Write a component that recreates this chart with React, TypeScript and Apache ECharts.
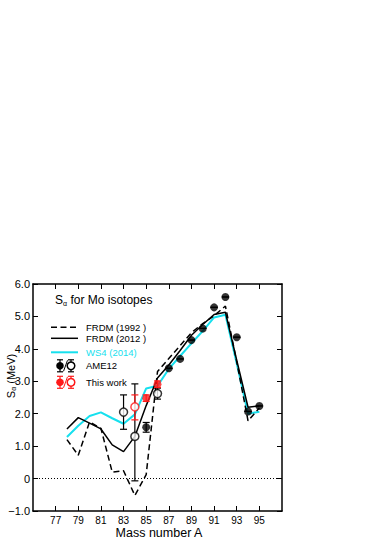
import React, { useEffect, useRef } from "react";
import * as echarts from "echarts";

// ---- data ----
const masses = [78, 79, 80, 81, 82, 83, 84, 85, 86, 87, 88, 89, 90, 91, 92, 93, 94, 95];
const frdm1992 = [1.2, 0.72, 1.75, 1.55, 0.2, 0.24, -0.52, 0.12, 3.3, 3.7, 4.1, 4.5, 4.78, 5.02, 5.32, 3.6, 1.78, 2.18];
const frdm2012 = [1.53, 1.88, 1.71, 1.53, 1.04, 0.83, 1.3, 2.25, 3.1, 3.5, 3.95, 4.42, 4.75, 5.06, 5.13, 3.65, 2.2, 2.24];
const ws4 = [1.28, 1.63, 1.93, 2.04, 1.86, 1.69, 1.98, 2.78, 2.86, 3.38, 3.78, 4.17, 4.55, 4.97, 5.05, 3.55, 2.0, 2.06];

const ameFilledA = [85, 87, 88, 89, 90, 91, 92, 93, 94, 95];
const ameFilledS = [1.58, 3.4, 3.69, 4.27, 4.63, 5.28, 5.6, 4.36, 2.07, 2.24];
const ameFilledLow = [1.43, 3.4, 3.69, 4.27, 4.63, 5.28, 5.6, 4.36, 2.07, 2.24];
const ameFilledHigh = [1.73, 3.4, 3.69, 4.27, 4.63, 5.28, 5.6, 4.36, 2.07, 2.24];

const ameOpenA = [83, 84, 86];
const ameOpenS = [2.05, 1.3, 2.62];
const ameOpenLow = [1.52, -0.07, 2.45];
const ameOpenHigh = [2.58, 2.92, 2.79];

const thisFilledA = [85, 86];
const thisFilledS = [2.48, 2.91];
const thisFilledLow = [2.38, 2.81];
const thisFilledHigh = [2.58, 3.01];

const thisOpenA = [84];
const thisOpenS = [2.21];
const thisOpenLow = [1.81];
const thisOpenHigh = [2.58];

const xTicks = [77, 79, 81, 83, 85, 87, 89, 91, 93, 95];

const legendNames = ["FRDM (1992 )", "FRDM (2012 )", "WS4 (2014)", "AME12", "This work"];

const FONT = "'Liberation Sans', Arial, sans-serif";
const CYAN = "#16e0ee";
const RED = "#ff1a1a";

function pairs(xs: number[], ys: number[]) {
  return xs.map((x, i) => [x, ys[i]]);
}
function triples(xs: number[], lo: number[], hi: number[]) {
  return xs.map((x, i) => [x, lo[i], hi[i]]);
}

function errSeries(data: number[][], color: string) {
  return {
    type: "custom",
    xAxisIndex: 0,
    yAxisIndex: 0,
    encode: { x: 0, y: [1, 2] },
    data,
    z: 3,
    renderItem: (params: any, api: any) => {
      const x = api.value(0);
      const lo = api.value(1);
      const hi = api.value(2);
      const p1 = api.coord([x, lo]);
      const p2 = api.coord([x, hi]);
      const w = 3.5;
      const st = { stroke: color, lineWidth: 1.2 };
      return {
        type: "group",
        children: [
          { type: "line", shape: { x1: p1[0], y1: p1[1], x2: p2[0], y2: p2[1] }, style: st },
          { type: "line", shape: { x1: p1[0] - w, y1: p1[1], x2: p1[0] + w, y2: p1[1] }, style: st },
          { type: "line", shape: { x1: p2[0] - w, y1: p2[1], x2: p2[0] + w, y2: p2[1] }, style: st },
        ],
      };
    },
  };
}

function legendSymbol(y: number, color: string) {
  const st = { stroke: color, lineWidth: 1.2 };
  const els: any[] = [];
  [60, 71].forEach((cx, k) => {
    els.push({ type: "line", shape: { x1: cx, y1: y - 6, x2: cx, y2: y + 6 }, style: st });
    els.push({ type: "line", shape: { x1: cx - 3, y1: y - 6, x2: cx + 3, y2: y - 6 }, style: st });
    els.push({ type: "line", shape: { x1: cx - 3, y1: y + 6, x2: cx + 3, y2: y + 6 }, style: st });
    els.push({
      type: "circle",
      shape: { cx, cy: y, r: 3.8 },
      style: k === 0 ? { fill: color } : { fill: "#fff", stroke: color, lineWidth: 1.5 },
    });
  });
  els.push({ type: "line", shape: { x1: 63.5, y1: y + 5.5, x2: 67.5, y2: y - 5.5 }, style: { stroke: color, lineWidth: 1 } });
  return els;
}

export default function App() {
  const ref = useRef<HTMLDivElement>(null);
  useEffect(() => {
    document.body.style.margin = "0";
    if (!ref.current) return;
    const chart = echarts.init(ref.current, null, { renderer: "svg" });

    const axisLineStyle = { color: "#000", width: 1.5 };
    const tickStyle = { color: "#000", width: 1 };

    const option: any = {
      animation: false,
      backgroundColor: "#fff",
      grid: { left: 33, top: 284, width: 249, height: 227 },
      xAxis: [
        {
          type: "value",
          min: 75,
          max: 97,
          position: "bottom",
          axisLine: { show: true, onZero: false, lineStyle: axisLineStyle },
          axisTick: { show: true, inside: true, length: 5, customValues: xTicks, lineStyle: tickStyle },
          axisLabel: { customValues: xTicks, fontSize: 10, lineHeight: 11, color: "#000", margin: 4, fontFamily: FONT },
          splitLine: { show: false },
        },
        {
          type: "value",
          min: 75,
          max: 97,
          position: "top",
          axisLine: { show: true, onZero: false, lineStyle: axisLineStyle },
          axisTick: { show: true, inside: true, length: 5, customValues: xTicks, lineStyle: tickStyle },
          axisLabel: { show: false },
          splitLine: { show: false },
        },
      ],
      yAxis: [
        {
          type: "value",
          min: -1,
          max: 6,
          interval: 1,
          position: "left",
          axisLine: { show: true, onZero: false, lineStyle: axisLineStyle },
          axisTick: { show: true, inside: true, length: 5, lineStyle: tickStyle },
          axisLabel: {
            fontSize: 11,
            color: "#000",
            margin: 3,
            fontFamily: FONT,
            formatter: (v: number) => (v === 0 ? "0" : v < 0 ? "\u2212" + Math.abs(v).toFixed(1) : v.toFixed(1)),
          },
          splitLine: { show: false },
        },
        {
          type: "value",
          min: -1,
          max: 6,
          interval: 1,
          position: "right",
          axisLine: { show: true, onZero: false, lineStyle: axisLineStyle },
          axisTick: { show: true, inside: true, length: 5, lineStyle: tickStyle },
          axisLabel: { show: false },
          splitLine: { show: false },
        },
      ],
      series: [
        {
          name: legendNames[2],
          type: "line",
          data: pairs(masses, ws4),
          symbol: "none",
          lineStyle: { color: CYAN, width: 2 },
          z: 2,
          markLine: {
            silent: true,
            symbol: ["none", "none"],
            label: { show: false },
            lineStyle: { color: "#000", width: 1, type: [1, 2] },
            data: [{ yAxis: 0 }],
          },
        },
        {
          name: legendNames[0],
          type: "line",
          data: pairs(masses, frdm1992),
          symbol: "none",
          lineStyle: { color: "#000", width: 1.5, type: [6, 3.5] },
          z: 2,
        },
        {
          name: legendNames[1],
          type: "line",
          data: pairs(masses, frdm2012),
          symbol: "none",
          lineStyle: { color: "#000", width: 1.5 },
          z: 2,
        },
        errSeries(triples(ameFilledA, ameFilledLow, ameFilledHigh), "#000"),
        errSeries(triples(ameOpenA, ameOpenLow, ameOpenHigh), "#000"),
        errSeries(triples(thisFilledA, thisFilledLow, thisFilledHigh), RED),
        errSeries(triples(thisOpenA, thisOpenLow, thisOpenHigh), RED),
        {
          name: legendNames[3],
          type: "scatter",
          data: pairs(ameFilledA, ameFilledS),
          symbol: "circle",
          symbolSize: 8,
          itemStyle: { color: "#000" },
          z: 5,
        },
        {
          name: legendNames[3] + " est",
          type: "scatter",
          data: pairs(ameOpenA, ameOpenS),
          symbol: "circle",
          symbolSize: 8,
          itemStyle: { color: "#fff", borderColor: "#000", borderWidth: 1.5 },
          z: 5,
        },
        {
          name: legendNames[4],
          type: "scatter",
          data: pairs(thisFilledA, thisFilledS),
          symbol: "circle",
          symbolSize: 8,
          itemStyle: { color: RED },
          z: 5,
        },
        {
          name: legendNames[4] + " est",
          type: "scatter",
          data: pairs(thisOpenA, thisOpenS),
          symbol: "circle",
          symbolSize: 8,
          itemStyle: { color: "#fff", borderColor: RED, borderWidth: 1.5 },
          z: 5,
        },
      ],
      graphic: [
        {
          type: "text",
          x: 55,
          y: 300,
          style: {
            text: "{s|S}{a|\u03b1}{s| for Mo isotopes}",
            align: "left",
            verticalAlign: "middle",
            rich: {
              s: { fontSize: 12, fontFamily: FONT, fill: "#000", lineHeight: 14, verticalAlign: "middle" },
              a: { fontSize: 7, fontFamily: FONT, fill: "#000", lineHeight: 14, verticalAlign: "bottom" },
            },
          },
        },
        {
          type: "text",
          x: 10.5,
          y: 376,
          rotation: Math.PI / 2,
          style: {
            text: "{s|S}{a|\u03b1}{s| (MeV)}",
            align: "center",
            verticalAlign: "middle",
            rich: {
              s: { fontSize: 11, fontFamily: FONT, fill: "#000", lineHeight: 13, verticalAlign: "middle" },
              a: { fontSize: 7, fontFamily: FONT, fill: "#000", lineHeight: 13, verticalAlign: "bottom" },
            },
          },
        },
        {
          type: "text",
          x: 159,
          y: 533,
          style: {
            text: "Mass number A",
            fontSize: 12.5,
            lineHeight: 12,
            fontFamily: FONT,
            fill: "#000",
            align: "center",
            verticalAlign: "middle",
          },
        },
        { type: "line", shape: { x1: 51, y1: 327.3, x2: 78, y2: 327.3 }, style: { stroke: "#000", lineWidth: 1.5, lineDash: [6, 3.5] } },
        { type: "line", shape: { x1: 51, y1: 338.3, x2: 78, y2: 338.3 }, style: { stroke: "#000", lineWidth: 1.5 } },
        { type: "line", shape: { x1: 51, y1: 352.3, x2: 78, y2: 352.3 }, style: { stroke: CYAN, lineWidth: 2 } },
        ...legendSymbol(365.8, "#000"),
        ...legendSymbol(382.3, RED),
        ...[327.3, 338.3, 352.3, 365.8, 382.3].map((yy, i) => ({
          type: "text",
          x: 86,
          y: yy,
          style: {
            text: legendNames[i],
            fontSize: 9.5,
            fontFamily: FONT,
            fill: i === 2 ? CYAN : "#000",
            align: "left",
            verticalAlign: "middle",
          },
        })),
      ],
    };
    chart.setOption(option);
    return () => chart.dispose();
  }, []);
  return <div ref={ref} style={{ width: 382, height: 539 }} />;
}
